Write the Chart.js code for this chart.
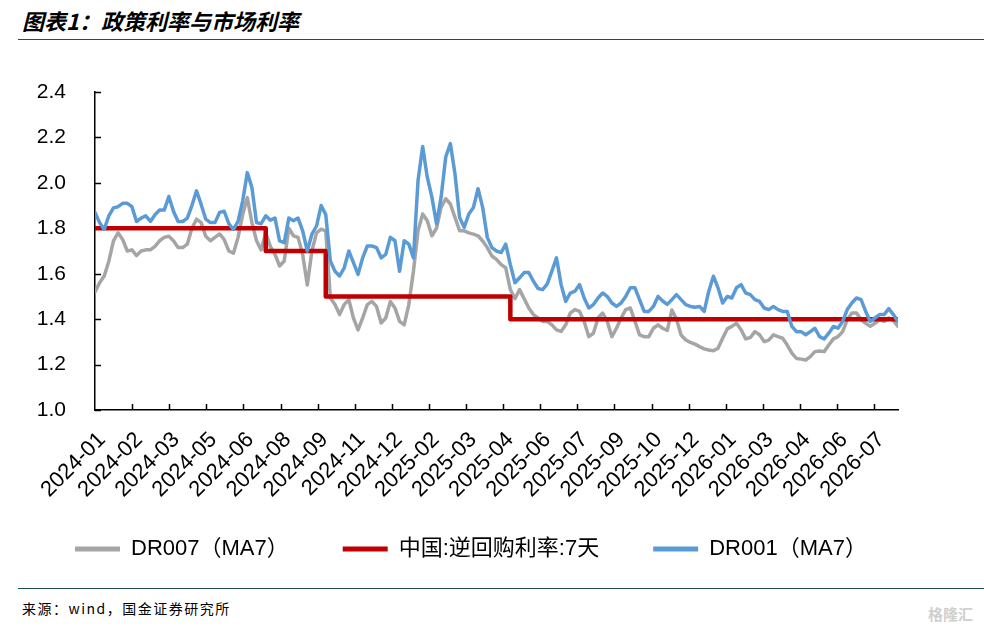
<!DOCTYPE html>
<html>
<head>
<meta charset="utf-8">
<script src="https://cdn.jsdelivr.net/npm/chart.js@4"></script>
<style>
  body { margin: 0; background: #fff; width: 984px; height: 632px; position: relative; overflow: hidden; }
  #title { position: absolute; left: 22px; top: 4px; font: italic bold 22px "Noto Sans CJK SC", sans-serif; color: #000; }
  .rule { position: absolute; left: 18px; width: 966px; height: 0; border-top: 1.5px solid #1e4d55; }
  #src { position: absolute; left: 22px; top: 598px; font: 14px "Noto Sans CJK SC", sans-serif; letter-spacing: 1.5px; color: #000; }
  #mark { position: absolute; left: 928px; top: 603px; font: bold 15px "Noto Sans CJK SC", sans-serif; color: #cfcfcf; }
  #box { position: absolute; left: 0; top: 42px; width: 984px; height: 544px; }
</style>
</head>
<body>
<div id="title">图表1：政策利率与市场利率</div>
<div class="rule" style="top:39px"></div>
<div id="box"><canvas id="chart"></canvas></div>
<div class="rule" style="top:588px"></div>
<div id="src">来源：wind，国金证券研究所</div>
<div id="mark">格隆汇</div>
<script>
// x tick labels, one every tickStep points
const tickLabels = ["2024-01", "2024-02", "2024-03", "2024-05", "2024-06", "2024-08", "2024-09", "2024-11",
  "2024-12", "2025-02", "2025-03", "2025-04", "2025-06", "2025-07", "2025-09", "2025-10",
  "2025-12", "2026-01", "2026-03", "2026-04", "2026-06", "2026-07"];
const tickStep = 8.04;

// DR007 (MA7)
const dr007 = [
  1.52, 1.56, 1.59, 1.655, 1.745, 1.78, 1.75, 1.70, 1.705, 1.68,
  1.70, 1.705, 1.705, 1.72, 1.745, 1.76, 1.765, 1.745, 1.715, 1.715,
  1.73, 1.80, 1.84, 1.825, 1.765, 1.745, 1.76, 1.775, 1.75, 1.70,
  1.69, 1.76, 1.86, 1.935, 1.825, 1.745, 1.705, 1.78, 1.72, 1.685,
  1.634, 1.656, 1.80, 1.767, 1.76, 1.685, 1.55, 1.70, 1.78, 1.796,
  1.789, 1.493, 1.464, 1.42, 1.464, 1.486, 1.405, 1.353, 1.405, 1.464,
  1.478, 1.456, 1.383, 1.405, 1.478, 1.449, 1.39, 1.375, 1.464, 1.611,
  1.789, 1.863, 1.833, 1.767, 1.80, 1.892, 1.93, 1.907, 1.848, 1.789,
  1.789, 1.78, 1.774, 1.767, 1.744, 1.715, 1.678, 1.663, 1.64, 1.626,
  1.53, 1.49, 1.53, 1.49, 1.449, 1.42, 1.405, 1.39, 1.39, 1.375,
  1.353, 1.346, 1.375, 1.427, 1.442, 1.434, 1.39, 1.323, 1.338, 1.405,
  1.427, 1.39, 1.323, 1.36, 1.405, 1.442, 1.449, 1.39, 1.331, 1.323,
  1.323, 1.36, 1.375, 1.36, 1.35, 1.44, 1.40, 1.33, 1.308, 1.298,
  1.29, 1.279, 1.269, 1.264, 1.261, 1.272, 1.316, 1.357, 1.368, 1.382,
  1.353, 1.313, 1.319, 1.345, 1.331, 1.301, 1.308, 1.331, 1.323, 1.316,
  1.286, 1.25, 1.227, 1.224, 1.22, 1.235, 1.257, 1.26, 1.257, 1.286,
  1.313, 1.323, 1.345, 1.397, 1.427, 1.427, 1.397, 1.382, 1.368, 1.382,
  1.397, 1.39, 1.405, 1.393, 1.368
];

// DR001 (MA7)
const dr001 = [
  1.87, 1.825, 1.795, 1.855, 1.89, 1.895, 1.91, 1.91, 1.895, 1.83,
  1.845, 1.855, 1.83, 1.86, 1.88, 1.88, 1.94, 1.875, 1.83, 1.83,
  1.845, 1.90, 1.965, 1.905, 1.84, 1.825, 1.825, 1.87, 1.875, 1.82,
  1.795, 1.83, 1.92, 2.045, 1.98, 1.825, 1.82, 1.855, 1.836, 1.845,
  1.745, 1.737, 1.845, 1.833, 1.845, 1.789, 1.70, 1.774, 1.81, 1.90,
  1.86, 1.656, 1.611, 1.59, 1.626, 1.70, 1.649, 1.597, 1.67, 1.722,
  1.722, 1.715, 1.67, 1.685, 1.76, 1.745, 1.611, 1.745, 1.73, 1.67,
  2.01, 2.16, 2.025, 1.937, 1.82, 1.937, 2.114, 2.173, 2.04, 1.848,
  1.804, 1.863, 1.892, 1.974, 1.892, 1.76, 1.715, 1.70, 1.693, 1.73,
  1.64, 1.56, 1.582, 1.605, 1.605, 1.567, 1.535, 1.53, 1.555, 1.611,
  1.67, 1.552, 1.478, 1.515, 1.523, 1.552, 1.493, 1.449, 1.464, 1.493,
  1.515, 1.50, 1.471, 1.456, 1.471, 1.50, 1.538, 1.538, 1.486, 1.434,
  1.434, 1.456, 1.50, 1.48, 1.465, 1.486, 1.508, 1.486, 1.464, 1.456,
  1.452, 1.456, 1.434, 1.523, 1.589, 1.538, 1.471, 1.50, 1.493, 1.538,
  1.552, 1.515, 1.508, 1.486, 1.478, 1.449, 1.442, 1.456, 1.442, 1.434,
  1.434, 1.368, 1.345, 1.345, 1.331, 1.345, 1.36, 1.323, 1.313, 1.338,
  1.368, 1.36, 1.39, 1.442, 1.471, 1.493, 1.486, 1.434, 1.39, 1.405,
  1.42, 1.42, 1.446, 1.42, 1.39
];

// 7-day reverse repo rate: point index where each level starts, and the level
const repoAt = [0, 37, 50, 90, 174];
const repoRate = [1.8, 1.7, 1.5, 1.4, 1.4];

const xMax = dr001.length - 1;
const font = "'Liberation Sans', 'Noto Sans CJK SC', sans-serif";
Chart.defaults.font.family = font;
Chart.defaults.color = "#000";

// tick marks pointing into the plot, like the source chart
const innerTicks = {
  id: "innerTicks",
  // the x labels hang into the legend's empty top padding; stop them being clipped
  afterLayout(chart) {
    const sx = chart.scales.x;
    sx.bottom = sx.top + 110;
  },
  beforeDatasetsDraw(chart) {
    const { ctx, chartArea, scales } = chart;
    ctx.save();
    ctx.strokeStyle = "#000";
    ctx.lineWidth = 1.5;
    ctx.beginPath();
    scales.y.ticks.forEach((t) => {
      const py = Math.round(scales.y.getPixelForValue(t.value)) + 0.5;
      ctx.moveTo(chartArea.left, py);
      ctx.lineTo(chartArea.left + 6, py);
    });
    scales.x.ticks.forEach((t) => {
      if (t.value === 0) return;
      const px = Math.round(scales.x.getPixelForValue(t.value)) + 0.5;
      ctx.moveTo(px, chartArea.bottom);
      ctx.lineTo(px, chartArea.bottom - 6);
    });
    ctx.stroke();
    ctx.restore();
  },
};

new Chart(document.getElementById("chart"), {
  type: "line",
  data: {
    datasets: [
      {
        label: "DR007（MA7）",
        data: dr007.map((v, i) => ({ x: i, y: v })),
        borderColor: "#a5a5a5",
        backgroundColor: "#a5a5a5",
        borderWidth: 3.5,
        order: 2,
      },
      {
        label: "中国:逆回购利率:7天",
        data: repoAt.map((x, i) => ({ x: x, y: repoRate[i] })),
        borderColor: "#c00000",
        backgroundColor: "#c00000",
        borderWidth: 4.5,
        stepped: true,
        order: 1,
      },
      {
        label: "DR001（MA7）",
        data: dr001.map((v, i) => ({ x: i, y: v })),
        borderColor: "#5b9bd5",
        backgroundColor: "#5b9bd5",
        borderWidth: 3.5,
        order: 0,
      },
    ],
  },
  options: {
    responsive: true,
    maintainAspectRatio: false,
    animation: false,
    elements: { point: { radius: 0 }, line: { tension: 0, borderJoinStyle: "round", borderCapStyle: "round" } },
    layout: { padding: { left: 21, right: 0, top: 50, bottom: 16 } },
    plugins: {
      tooltip: { enabled: false },
      legend: {
        position: "bottom",
        align: "start",
        labels: {
          font: { size: 22 },
          boxWidth: 45,
          boxHeight: 5,
          padding: 54,
          generateLabels: (chart) =>
            chart.data.datasets.map((ds, i) => ({
              text: ds.label,
              fillStyle: ds.borderColor,
              strokeStyle: ds.borderColor,
              lineWidth: 0,
              datasetIndex: i,
              hidden: false,
            })),
        },
      },
    },
    scales: {
      x: {
        type: "linear",
        min: 0,
        max: xMax,
        grid: { display: true, drawOnChartArea: false, drawTicks: false },
        border: { color: "#000", width: 1.5 },
        afterFit: (s) => { s.height = 74; },
        ticks: {
          stepSize: tickStep,
          includeBounds: false,
          autoSkip: false,
          maxRotation: 45,
          minRotation: 45,
          padding: 17,
          labelOffset: 7,
          font: { size: 22 },
          callback: (v) => tickLabels[Math.round(v / tickStep)] || "",
        },
      },
      y: {
        min: 1.0,
        max: 2.4,
        grid: { display: true, drawOnChartArea: false, drawTicks: false },
        border: { color: "#000", width: 1.5 },
        afterFit: (s) => { s.width = 74; },
        ticks: {
          stepSize: 0.2,
          padding: 29,
          font: { size: 21 },
          callback: (v) => v.toFixed(1),
        },
      },
      // empty right-hand space so the plot ends where the source plot ends
      yRight: {
        position: "right",
        display: true,
        grid: { display: false },
        border: { display: false },
        ticks: { display: false },
        afterFit: (s) => { s.width = 86; },
      },
    },
  },
  plugins: [innerTicks],
});
</script>
</body>
</html>
